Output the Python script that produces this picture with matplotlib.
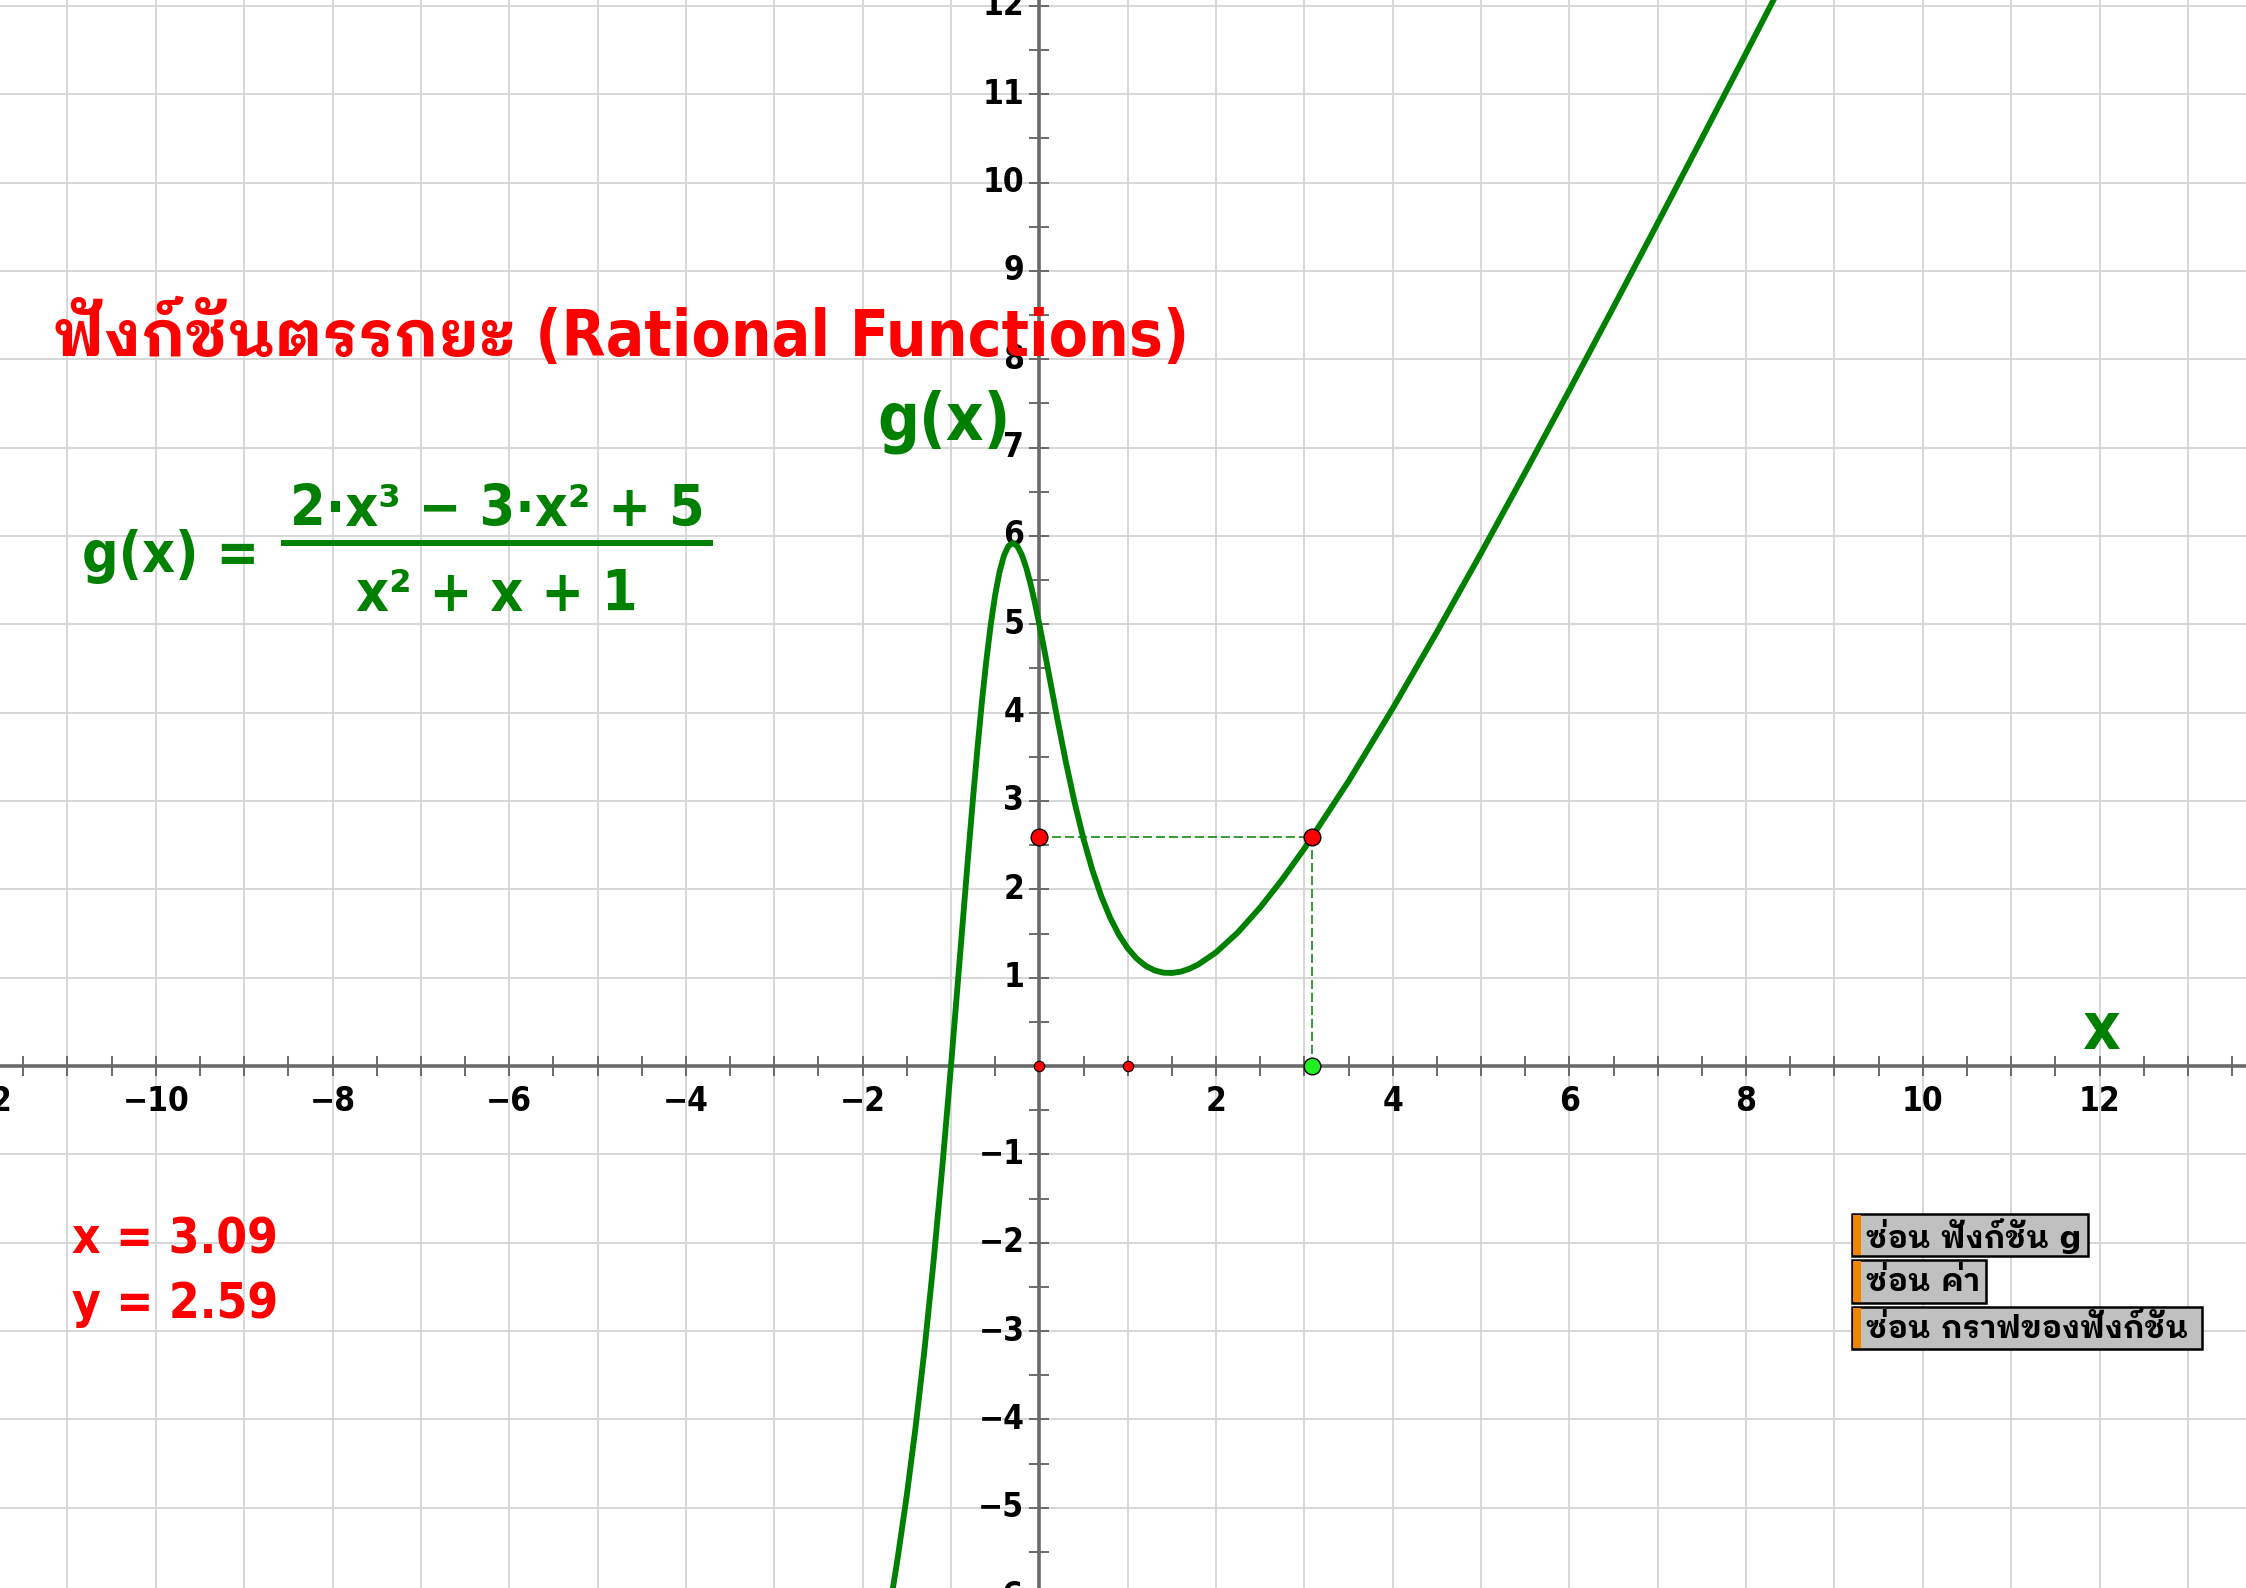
import numpy as np
import matplotlib
matplotlib.use("Agg")
import matplotlib.pyplot as plt
import matplotlib.font_manager as fm
from matplotlib.ft2font import FT2Font
from matplotlib.patches import Rectangle
from matplotlib.lines import Line2D

# ---------------- data ----------------
curve_x = [-1.70, -1.65, -1.60, -1.50, -1.40, -1.30, -1.20, -1.10, -1.00, -0.90,
           -0.80, -0.75, -0.70, -0.65, -0.60, -0.55, -0.50, -0.45, -0.40, -0.35,
           -0.30, -0.25, -0.20, -0.15, -0.10, -0.05, 0.00, 0.05, 0.10, 0.20,
           0.30, 0.40, 0.50, 0.60, 0.70, 0.80, 0.90, 1.00, 1.10, 1.20,
           1.30, 1.40, 1.50, 1.60, 1.70, 1.80, 2.00, 2.25, 2.50, 2.75,
           3.00, 3.50, 4.00, 4.50, 5.00, 5.50, 6.00, 6.50, 7.00, 7.50,
           8.00, 8.50]
curve_y = [-6.163, -5.863, -5.547, -4.857, -4.082, -3.212, -2.239, -1.164, 0.000, 1.222,
           2.448, 3.038, 3.600, 4.121, 4.589, 4.996, 5.333, 5.595, 5.779, 5.886,
           5.919, 5.885, 5.790, 5.646, 5.459, 5.241, 5.000, 4.744, 4.479, 3.948,
           3.442, 2.979, 2.571, 2.220, 1.925, 1.682, 1.486, 1.333, 1.218, 1.136,
           1.084, 1.057, 1.053, 1.068, 1.101, 1.150, 1.286, 1.515, 1.795, 2.113,
           2.462, 3.224, 4.048, 4.913, 5.806, 6.721, 7.651, 8.593, 9.544, 10.502,
           11.466, 12.434]
point_x = 3.09
point_y = 2.59
axis_points_x = [0, 1]
x_tick_values = [-12, -10, -8, -6, -4, -2, 2, 4, 6, 8, 10, 12]
y_tick_values = [-6, -5, -4, -3, -2, -1, 1, 2, 3, 4, 5, 6, 7, 8, 9, 10, 11, 12]
title_text = "ฟังก์ชันตรรกยะ (Rational Functions)"
formula_lhs = "g(x) ="
formula_num = "2·x³ − 3·x² + 5"
formula_den = "x² + x + 1"
curve_label = "g(x)"
axis_label = "x"
value_lines = ["x = 3.09", "y = 2.59"]
button_labels = ["ซ่อน ฟังก์ชัน g", "ซ่อน ค่า", "ซ่อน กราฟของฟังก์ชัน"]

# ---------------- fonts ----------------
thai_styles = {}
for path in fm.findSystemFonts(fontext="ttf"):
    try:
        ft = FT2Font(path)
        if 0x0E1F in ft.get_charmap():
            thai_styles.setdefault(ft.family_name, set()).add(ft.style_name)
            try:
                fm.fontManager.addfont(path)
            except Exception:
                pass
    except Exception:
        pass

thai_family = None
preferred = ["IBM Plex Sans Thai Looped", "Noto Sans Thai Looped", "Tahoma",
             "Noto Sans Thai", "Sarabun", "IBM Plex Sans Thai", "Loma", "Garuda"]
for p in preferred:
    if p in thai_styles:
        thai_family = p
        break
if thai_family is None:
    for fam, st in thai_styles.items():
        if "Bold" in st:
            thai_family = fam
            break

latin = "DejaVu Sans"
fam_list = [latin] + ([thai_family] if thai_family else [])

GREEN = "#008000"
RED = "#ff0000"
AXIS = "#6a6a6a"
GRID = "#d4d4d4"

W, H = 2246, 1588
fig = plt.figure(figsize=(W / 100, H / 100), dpi=100)
ax = fig.add_axes([0, 0, 1, 1])
ax.set_xlim(-11.764, 13.658)
ax.set_ylim(-5.908, 12.066)
ax.axis("off")

def fx(p):
    return p / W

def fy(p):
    return 1 - p / H

# grid
for v in range(-12, 14):
    ax.axvline(v, color=GRID, lw=1.3, zorder=0)
for v in range(-6, 13):
    ax.axhline(v, color=GRID, lw=1.3, zorder=0)

# axes
ax.axhline(0, color=AXIS, lw=2.6, zorder=2)
ax.axvline(0, color=AXIS, lw=2.6, zorder=2)
xt = np.arange(-12, 14, 0.5)
yt = np.arange(-6, 12.5, 0.5)
ax.plot(xt, np.zeros_like(xt), ls="none", marker="|", ms=14, mew=1.4, color=AXIS, zorder=2)
ax.plot(np.zeros_like(yt), yt, ls="none", marker="_", ms=14, mew=1.4, color=AXIS, zorder=2)

for v in x_tick_values:
    ax.annotate(str(v).replace("-", "−"), xy=(v, 0), xytext=(0, -35),
                textcoords="offset pixels", ha="center", va="center",
                fontsize=24, fontweight="bold", color="black", family=latin,
                fontstretch="condensed", annotation_clip=False)
for v in y_tick_values:
    ax.annotate(str(v).replace("-", "−"), xy=(0, v), xytext=(-15, 0),
                textcoords="offset pixels", ha="right", va="center",
                fontsize=24, fontweight="bold", color="black", family=latin,
                fontstretch="condensed", annotation_clip=False)

# curve
ax.plot(curve_x, curve_y, color=GREEN, lw=4.2, solid_joinstyle="round",
        solid_capstyle="round", zorder=4)

# dashed guides
ax.plot([0, point_x], [point_y, point_y], color=GREEN, lw=1.1, dashes=(6, 2.5), zorder=3)
ax.plot([point_x, point_x], [point_y, 0], color=GREEN, lw=1.1, dashes=(6, 2.5), zorder=3)

# points
ax.plot(axis_points_x, [0] * len(axis_points_x), ls="none", marker="o", ms=7.5,
        mfc=RED, mec="black", mew=0.8, zorder=6)
ax.plot([0, point_x], [point_y, point_y], ls="none", marker="o", ms=12,
        mfc=RED, mec="black", mew=1.0, zorder=6)
ax.plot([point_x], [0], ls="none", marker="o", ms=12,
        mfc="#22ee22", mec="black", mew=1.0, zorder=6)

# texts
fig.text(fx(54), fy(356), title_text, color=RED, fontsize=45.8, fontweight="bold",
         family=fam_list, fontstretch="condensed", ha="left", va="baseline")
fig.text(fx(877), fy(440), curve_label, color=GREEN, fontsize=47, fontweight="bold",
         family=latin, fontstretch="condensed", ha="left", va="baseline")
fig.text(fx(2082), fy(1049), axis_label, color=GREEN, fontsize=47, fontweight="bold",
         family=latin, fontstretch="condensed", ha="left", va="baseline")

fig.text(fx(82), fy(572), formula_lhs, color=GREEN, fontsize=41, fontweight="bold",
         family=latin, fontstretch="condensed", ha="left", va="baseline")
fig.text(fx(497), fy(526), formula_num, color=GREEN, fontsize=41, fontweight="bold",
         family=latin, fontstretch="condensed", ha="center", va="baseline")
fig.text(fx(497), fy(611), formula_den, color=GREEN, fontsize=41, fontweight="bold",
         family=latin, fontstretch="condensed", ha="center", va="baseline")
fig.add_artist(Line2D([fx(284), fx(710)], [fy(543), fy(543)], color=GREEN, lw=4.3,
                      transform=fig.transFigure))

for t, b in zip(value_lines, [1253, 1318]):
    fig.text(fx(72), fy(b), t, color=RED, fontsize=35.5, fontweight="bold",
             family=latin, fontstretch="condensed", ha="left", va="baseline")

# buttons
boxes = [(1852, 1214, 2088, 1256), (1852, 1260, 1986, 1303), (1852, 1307, 2202, 1349)]
for (x0, y0, x1, y1), lab in zip(boxes, button_labels):
    fig.add_artist(Rectangle((fx(x0), fy(y1)), fx(x1 - x0), (y1 - y0) / H,
                             transform=fig.transFigure, facecolor="#c0c0c0",
                             edgecolor="black", lw=1.8, zorder=5))
    fig.add_artist(Rectangle((fx(x0 + 1), fy(y1 - 1)), fx(8), (y1 - y0 - 2) / H,
                             transform=fig.transFigure, facecolor="#f28500",
                             edgecolor="none", zorder=6))
    fig.text(fx(1866), fy((y0 + y1) / 2 + 1), lab, color="black", fontsize=22.3,
             fontweight="bold", family=fam_list, ha="left", va="center", zorder=7)

fig.savefig("out.png", dpi=100)
